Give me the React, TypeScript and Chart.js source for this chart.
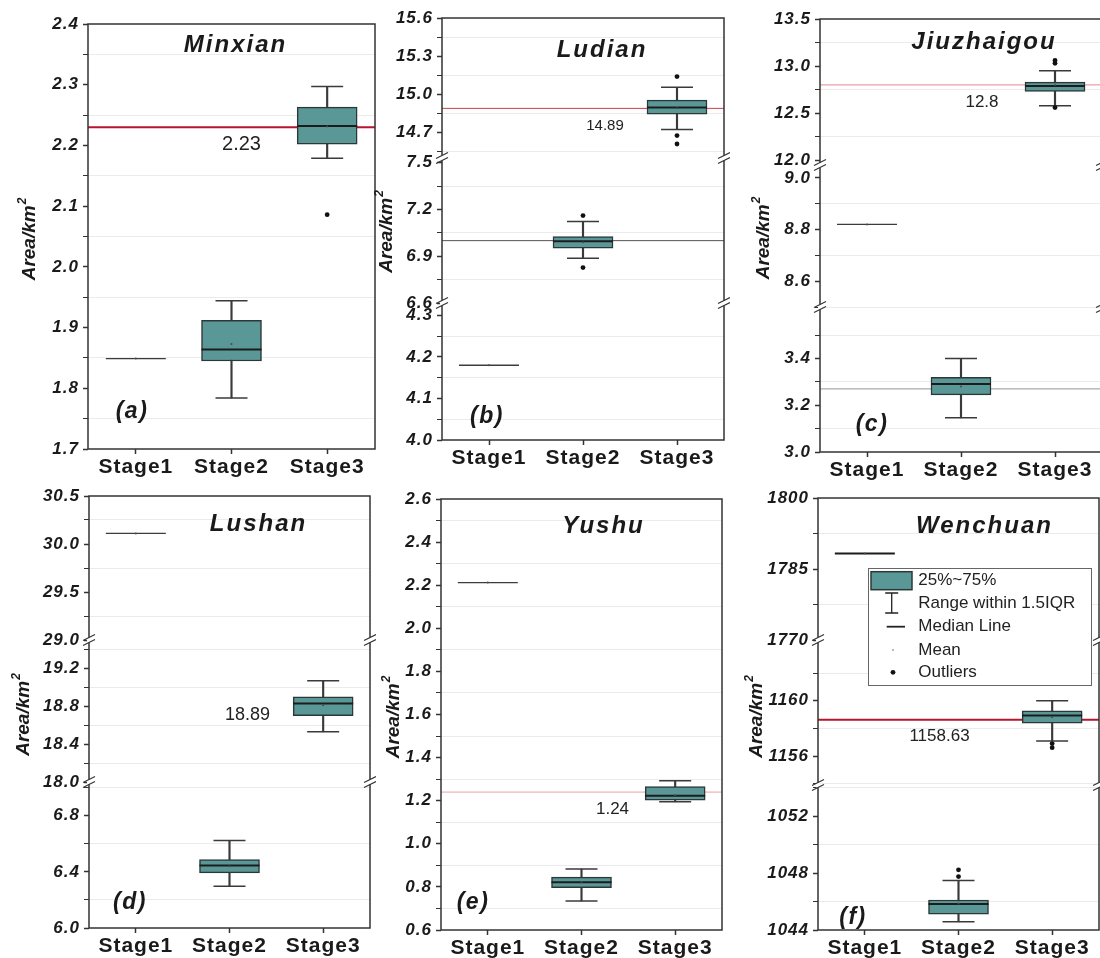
import React, { useEffect, useRef } from 'react';
import { Chart, registerables } from 'chart.js';

Chart.register(...registerables);

const FONT = '"Liberation Sans", Arial, sans-serif';
const STAGES = ['Stage1', 'Stage2', 'Stage3'];
const LEGEND_LABELS = ['25%~75%', 'Range within 1.5IQR', 'Median Line', 'Mean', 'Outliers'];

// Box statistics per stage: [lower whisker, Q1, median, Q3, upper whisker, mean]
// Outliers: [stage index, value]. Ranges: value span of each axis segment (top to bottom).

// (a) Minxian
const MINXIAN_BOXES = [
  [1.849, 1.849, 1.849, 1.849, 1.849, 1.849],
  [1.784, 1.845, 1.864, 1.912, 1.944, 1.873],
  [2.179, 2.202, 2.232, 2.263, 2.297, 2.231],
];
const MINXIAN_OUTLIERS = [[2, 2.086]];
const MINXIAN_RANGES = [[1.7, 2.4]];
const MINXIAN_TICKS = [[1.7, 1.8, 1.9, 2.0, 2.1, 2.2, 2.3, 2.4]];
const MINXIAN_REF = [2.23];
const MINXIAN_REF_LABELS = ['2.23'];

// (b) Ludian
const LUDIAN_BOXES = [
  [4.18, 4.18, 4.18, 4.18, 4.18, 4.18],
  [6.887, 6.951, 6.996, 7.026, 7.123, 6.99],
  [14.724, 14.844, 14.896, 14.955, 15.055, 14.89],
];
const LUDIAN_OUTLIERS = [[1, 7.161], [1, 6.827], [2, 15.14], [2, 14.676], [2, 14.61]];
const LUDIAN_RANGES = [[14.5, 15.6], [6.6, 7.53], [4.0, 4.33]];
const LUDIAN_TICKS = [[14.7, 15.0, 15.3, 15.6], [6.6, 6.9, 7.2, 7.5], [4.0, 4.1, 4.2, 4.3]];
const LUDIAN_REF = [14.89, 7.0];
const LUDIAN_REF_LABELS = ['14.89', ''];

// (c) Jiuzhaigou
const JIUZHAIGOU_BOXES = [
  [8.82, 8.82, 8.82, 8.82, 8.82, 8.82],
  [3.146, 3.244, 3.291, 3.319, 3.4, 3.28],
  [12.58, 12.73, 12.79, 12.83, 12.95, 12.8],
];
const JIUZHAIGOU_OUTLIERS = [[2, 13.06], [2, 13.03], [2, 12.56]];
const JIUZHAIGOU_RANGES = [[11.95, 13.5], [8.5, 9.05], [3.0, 3.62]];
const JIUZHAIGOU_TICKS = [[12.0, 12.5, 13.0, 13.5], [8.6, 8.8, 9.0], [3.0, 3.2, 3.4]];
const JIUZHAIGOU_REF = [12.8, 3.27];
const JIUZHAIGOU_REF_LABELS = ['12.8', ''];

// (d) Lushan
const LUSHAN_BOXES = [
  [30.11, 30.11, 30.11, 30.11, 30.11, 30.11],
  [6.297, 6.393, 6.445, 6.488, 6.623, 6.44],
  [18.53, 18.7, 18.83, 18.9, 19.07, 18.81],
];
const LUSHAN_OUTLIERS: number[][] = [];
const LUSHAN_RANGES = [[29.0, 30.5], [18.0, 19.5], [6.0, 7.04]];
const LUSHAN_TICKS = [[29.0, 29.5, 30.0, 30.5], [18.0, 18.4, 18.8, 19.2], [6.0, 6.4, 6.8]];
const LUSHAN_REF = [18.89];
const LUSHAN_REF_LABELS = ['18.89'];

// (e) Yushu
const YUSHU_BOXES = [
  [2.212, 2.212, 2.212, 2.212, 2.212, 2.212],
  [0.735, 0.796, 0.821, 0.845, 0.883, 0.82],
  [1.195, 1.203, 1.223, 1.265, 1.293, 1.225],
];
const YUSHU_OUTLIERS: number[][] = [];
const YUSHU_RANGES = [[0.6, 2.6]];
const YUSHU_TICKS = [[0.6, 0.8, 1.0, 1.2, 1.4, 1.6, 1.8, 2.0, 2.2, 2.4, 2.6]];
const YUSHU_REF = [1.24];
const YUSHU_REF_LABELS = ['1.24'];

// (f) Wenchuan
const WENCHUAN_BOXES = [
  [1788.3, 1788.3, 1788.3, 1788.3, 1788.3, 1788.3],
  [1044.58, 1045.12, 1045.83, 1046.11, 1047.48, 1045.86],
  [1157.09, 1158.38, 1158.93, 1159.27, 1160.0, 1158.8],
];
const WENCHUAN_OUTLIERS = [[1, 1047.76], [1, 1048.23], [2, 1156.9], [2, 1156.6]];
const WENCHUAN_RANGES = [[1770, 1800], [1153.9, 1164.4], [1044, 1054.2]];
const WENCHUAN_TICKS = [[1770, 1785, 1800], [1156, 1160], [1044, 1048, 1052]];
const WENCHUAN_REF = [1158.63];
const WENCHUAN_REF_LABELS = ['1158.63'];

const TEAL = '#5a9898';
const BOX_EDGE = '#2c3838';
const WHISKER = '#3a3a3a';
const GRID = '#ebebeb';
const INK = '#1a1a1a';

type PanelDef = {
  title: string; letter: string;
  boxes: number[][]; outliers: number[][]; ranges: number[][]; ticks: number[][];
  refs: number[]; refLabels: string[]; decimals: number;
  rect: number[]; weights: number[];
  titleDx: number; titleBase: number; letterDx: number; letterDy: number; yTitleDx: number;
  labelDx: number; labelSize: number; refStyles: [string, number][]; legend: boolean; singleWidth: number;
};

const PANELS: PanelDef[] = [
  {
    title: 'Minxian', letter: '(a)', boxes: MINXIAN_BOXES, outliers: MINXIAN_OUTLIERS, ranges: MINXIAN_RANGES,
    ticks: MINXIAN_TICKS, refs: MINXIAN_REF, refLabels: MINXIAN_REF_LABELS, decimals: 1,
    rect: [88, 24, 375, 449], weights: [1],
    titleDx: 4, titleBase: 27.7, letterDx: 44, letterDy: 37, yTitleDx: 60, labelDx: 10, labelSize: 20,
    refStyles: [['#b5152f', 2]], legend: false, singleWidth: 1.3,
  },
  {
    title: 'Ludian', letter: '(b)', boxes: LUDIAN_BOXES, outliers: LUDIAN_OUTLIERS, ranges: LUDIAN_RANGES,
    ticks: LUDIAN_TICKS, refs: LUDIAN_REF, refLabels: LUDIAN_REF_LABELS, decimals: 1,
    rect: [442, 18, 724, 440], weights: [140, 145, 137],
    titleDx: 19, titleBase: 38.7, letterDx: 45, letterDy: 23, yTitleDx: 57, labelDx: 22, labelSize: 15,
    refStyles: [['#d03a4a', 1], ['#555555', 1]], legend: false, singleWidth: 1.3,
  },
  {
    title: 'Jiuzhaigou', letter: '(c)', boxes: JIUZHAIGOU_BOXES, outliers: JIUZHAIGOU_OUTLIERS, ranges: JIUZHAIGOU_RANGES,
    ticks: JIUZHAIGOU_TICKS, refs: JIUZHAIGOU_REF, refLabels: JIUZHAIGOU_REF_LABELS, decimals: 1,
    rect: [820, 19, 1102, 452], weights: [146, 142, 145],
    titleDx: 23, titleBase: 30.3, letterDx: 52, letterDy: 27, yTitleDx: 58, labelDx: 21, labelSize: 17,
    refStyles: [['#eaa0a8', 1.2], ['#aaaaaa', 1.2]], legend: false, singleWidth: 1.3,
  },
  {
    title: 'Lushan', letter: '(d)', boxes: LUSHAN_BOXES, outliers: LUSHAN_OUTLIERS, ranges: LUSHAN_RANGES,
    ticks: LUSHAN_TICKS, refs: LUSHAN_REF, refLabels: LUSHAN_REF_LABELS, decimals: 1,
    rect: [89, 496, 370, 928], weights: [144, 142, 146],
    titleDx: 29, titleBase: 34.7, letterDx: 41, letterDy: 25, yTitleDx: 67, labelDx: 18, labelSize: 18,
    refStyles: [['rgba(0,0,0,0)', 1]], legend: false, singleWidth: 1.3,
  },
  {
    title: 'Yushu', letter: '(e)', boxes: YUSHU_BOXES, outliers: YUSHU_OUTLIERS, ranges: YUSHU_RANGES,
    ticks: YUSHU_TICKS, refs: YUSHU_REF, refLabels: YUSHU_REF_LABELS, decimals: 1,
    rect: [441, 499, 722, 930], weights: [1],
    titleDx: 22, titleBase: 34.3, letterDx: 32, letterDy: 27, yTitleDx: 49, labelDx: 31, labelSize: 17,
    refStyles: [['#eaa0a8', 1]], legend: false, singleWidth: 1.3,
  },
  {
    title: 'Wenchuan', letter: '(f)', boxes: WENCHUAN_BOXES, outliers: WENCHUAN_OUTLIERS, ranges: WENCHUAN_RANGES,
    ticks: WENCHUAN_TICKS, refs: WENCHUAN_REF, refLabels: WENCHUAN_REF_LABELS, decimals: 0,
    rect: [818, 498, 1099, 930], weights: [142, 145, 145],
    titleDx: 26, titleBase: 35.3, letterDx: 35, letterDy: 12, yTitleDx: 63, labelDx: -19, labelSize: 17,
    refStyles: [['#b5152f', 2]], legend: true, singleWidth: 2,
  },
];

function buildTicks(majors: number[], lo: number, hi: number) {
  const step = majors.length > 1 ? majors[1] - majors[0] : 1;
  const r = (v: number) => Math.round(v * 1e6) / 1e6;
  const out: any[] = majors.map(v => ({ value: v, minorT: false }));
  const seen = new Set(majors.map(r));
  majors.forEach(m => {
    [m - step / 2, m + step / 2].forEach(v => {
      const rv = r(v);
      if (rv >= lo - 1e-9 && rv <= hi + 1e-9 && !seen.has(rv)) {
        seen.add(rv);
        out.push({ value: rv, minorT: true });
      }
    });
  });
  out.sort((a, b) => a.value - b.value);
  return out;
}

function buildDatasets(p: PanelDef) {
  const sets: any[] = [];
  p.ranges.forEach((rg, i) => {
    const yAxisID = 'y' + i;
    const inSeg = (v: number) => v >= rg[0] && v <= rg[1];
    const pick = (f: (b: number[]) => any) => p.boxes.map(b => (inSeg(b[2]) ? f(b) : null));
    const inBoxes = p.boxes.filter(b => inSeg(b[2]));
    const pts = (f: (b: number[]) => number[]) =>
      p.boxes.flatMap((b, k) => (inSeg(b[2]) ? f(b).map(y => ({ x: STAGES[k], y })) : []));
    const medWidths = inBoxes.map(b => (b[1] === b[3] ? p.singleWidth : 2));
    const medColors = inBoxes.map(b => (b[1] === b[3] && p.singleWidth < 2 ? '#3c3c3c' : '#1c1c1c'));
    sets.push({ type: 'bar', yAxisID, data: pick(b => [b[0], b[4]]), backgroundColor: WHISKER, barThickness: 1.5, grouped: false, order: 6 });
    sets.push({ type: 'bar', yAxisID, data: pick(b => [b[1], b[3]]), backgroundColor: TEAL, borderColor: BOX_EDGE, borderWidth: 1.5, borderSkipped: false, barThickness: 60, grouped: false, order: 5 });
    sets.push({ type: 'line', yAxisID, showLine: false, data: pts(b => (b[0] === b[4] ? [] : [b[0], b[4]])), pointStyle: 'line', pointRadius: 16, pointBorderWidth: 1.5, pointBorderColor: WHISKER, order: 4 });
    sets.push({ type: 'line', yAxisID, showLine: false, data: pts(b => [b[2]]), pointStyle: 'line', pointRadius: 30, pointBorderWidth: medWidths, pointBorderColor: medColors, order: 3 });
    sets.push({ type: 'line', yAxisID, showLine: false, data: pts(b => [b[5]]), pointStyle: 'circle', pointRadius: 1, pointBackgroundColor: '#4a4a4a', pointBorderWidth: 0, order: 2 });
    sets.push({
      type: 'line', yAxisID, showLine: false,
      data: p.outliers.filter(o => inSeg(o[1])).map(o => ({ x: STAGES[o[0]], y: o[1] })),
      pointStyle: 'circle', pointRadius: 2.4, pointBackgroundColor: '#111', pointBorderWidth: 0, order: 1,
    });
  });
  return sets;
}

function drawBreak(ctx: CanvasRenderingContext2D, x: number, y: number) {
  ctx.save();
  ctx.fillStyle = '#fff';
  ctx.fillRect(x - 2, y - 2.5, 4, 5);
  ctx.strokeStyle = '#333';
  ctx.lineWidth = 1.2;
  [-2.5, 2.5].forEach(d => {
    ctx.beginPath();
    ctx.moveTo(x - 6, y + d + 3);
    ctx.lineTo(x + 6, y + d - 3);
    ctx.stroke();
  });
  ctx.restore();
}

function buildConfig(p: PanelDef): any {
  const n = p.ranges.length;
  const segOf = (v: number) => {
    const i = p.ranges.findIndex(r => v >= r[0] && v <= r[1]);
    return i < 0 ? 0 : i;
  };
  const scales: any = {
    x: {
      type: 'category', labels: STAGES, offset: true,
      grid: { offset: false, drawOnChartArea: false, drawTicks: true, tickLength: 5, tickColor: '#333', tickWidth: 1.5 },
      border: { display: false },
      ticks: { color: INK, font: { family: FONT, size: 21, weight: 'bold' }, padding: 1, autoSkip: false, maxRotation: 0 },
      afterFit: (s: any) => { s.height = 40; },
    },
  };
  p.ranges.forEach((rg, i) => {
    const sc: any = {
      type: 'linear', position: 'left', weight: n - i,
      min: rg[0], max: rg[1],
      afterBuildTicks: (s: any) => { s.ticks = buildTicks(p.ticks[i], rg[0], rg[1]); },
      afterFit: (s: any) => { s.width = 88; },
      grid: {
        color: (c: any) => (c.tick && c.tick.minorT ? GRID : 'rgba(0,0,0,0)'),
        tickColor: '#333', tickLength: 5,
        tickWidth: (c: any) => (c.tick && c.tick.minorT ? 1 : 1.5),
        lineWidth: 1,
      },
      border: { display: false },
      ticks: {
        autoSkip: false, color: INK, padding: 4,
        font: { family: FONT, size: 17, weight: 'bold', style: 'italic' },
        callback: (v: any, idx: number, arr: any[]) => (arr[idx] && arr[idx].minorT ? '' : Number(v).toFixed(p.decimals)),
      },
    };
    if (n > 1) { sc.stack = 'yaxes'; sc.stackWeight = p.weights[i]; }
    scales['y' + i] = sc;
  });

  const decor = {
    id: 'panelDecor',
    beforeDraw(chart: any) { chart.ctx.letterSpacing = '1px'; },
    beforeDatasetsDraw(chart: any) {
      const { ctx, chartArea: a } = chart;
      ctx.save();
      p.refs.forEach((v, k) => {
        const y = chart.scales['y' + segOf(v)].getPixelForValue(v);
        const [col, w] = p.refStyles[k];
        ctx.strokeStyle = col; ctx.lineWidth = w;
        ctx.beginPath(); ctx.moveTo(a.left, y); ctx.lineTo(a.right, y); ctx.stroke();
      });
      ctx.restore();
    },
    afterDraw(chart: any) {
      const { ctx, chartArea: a } = chart;
      ctx.save();
      ctx.letterSpacing = '0px';
      p.refs.forEach((v, k) => {
        const lbl = p.refLabels[k];
        if (!lbl) return;
        const y = chart.scales['y' + segOf(v)].getPixelForValue(v);
        const x = chart.scales.x.getPixelForValue(1) + p.labelDx;
        ctx.font = `${p.labelSize}px ${FONT}`;
        ctx.fillStyle = '#222'; ctx.textAlign = 'center'; ctx.textBaseline = 'middle';
        ctx.fillText(lbl, x, y + 17);
      });
      ctx.strokeStyle = '#333'; ctx.lineWidth = 1.5;
      ctx.strokeRect(a.left, a.top, a.right - a.left, a.bottom - a.top);
      for (let i = 0; i < n - 1; i++) {
        const y = chart.scales['y' + i].bottom;
        drawBreak(ctx, a.left, y);
        drawBreak(ctx, a.right, y);
      }
      ctx.fillStyle = INK;
      ctx.font = `italic bold 24px ${FONT}`;
      ctx.letterSpacing = '2px';
      ctx.textAlign = 'center'; ctx.textBaseline = 'alphabetic';
      ctx.fillText(p.title, (a.left + a.right) / 2 + p.titleDx, a.top + p.titleBase);
      ctx.font = `italic bold 23px ${FONT}`;
      ctx.letterSpacing = '1.5px';
      ctx.textBaseline = 'middle';
      ctx.fillText(p.letter, a.left + p.letterDx, a.bottom - p.letterDy);
      ctx.save();
      ctx.letterSpacing = '0px';
      ctx.translate(a.left - p.yTitleDx, (a.top + a.bottom) / 2 + 3);
      ctx.rotate(-Math.PI / 2);
      ctx.font = `italic bold 19px ${FONT}`;
      const main = 'Area/km';
      const w1 = ctx.measureText(main).width;
      ctx.font = `italic bold 12px ${FONT}`;
      const w2 = ctx.measureText('2').width;
      const x0 = -(w1 + w2) / 2;
      ctx.textAlign = 'left'; ctx.textBaseline = 'alphabetic';
      ctx.font = `italic bold 19px ${FONT}`;
      ctx.fillText(main, x0, 7);
      ctx.font = `italic bold 12px ${FONT}`;
      ctx.fillText('2', x0 + w1 + 1, -2);
      ctx.restore();
      if (p.legend) {
        const L = a.left + 50, T = a.top + 70;
        ctx.letterSpacing = '0px';
        ctx.fillStyle = '#fff';
        ctx.fillRect(L, T, 223, 117);
        ctx.strokeStyle = '#666'; ctx.lineWidth = 1;
        ctx.strokeRect(L + 0.5, T + 0.5, 223, 117);
        ctx.fillStyle = TEAL; ctx.fillRect(L + 3, T + 3.7, 41, 18);
        ctx.strokeStyle = BOX_EDGE; ctx.lineWidth = 1.5; ctx.strokeRect(L + 3, T + 3.7, 41, 18);
        const cx = L + 23.7;
        ctx.strokeStyle = '#222'; ctx.lineWidth = 1.3;
        ctx.beginPath();
        ctx.moveTo(cx, T + 25); ctx.lineTo(cx, T + 45);
        ctx.moveTo(cx - 6.5, T + 25); ctx.lineTo(cx + 6.5, T + 25);
        ctx.moveTo(cx - 6.5, T + 45); ctx.lineTo(cx + 6.5, T + 45);
        ctx.stroke();
        ctx.lineWidth = 1.8;
        ctx.beginPath(); ctx.moveTo(L + 18.7, T + 58.7); ctx.lineTo(L + 37, T + 58.7); ctx.stroke();
        ctx.fillStyle = '#bbb'; ctx.fillRect(L + 24, T + 81, 2, 2);
        ctx.fillStyle = '#111'; ctx.beginPath(); ctx.arc(L + 25, T + 104.3, 2.4, 0, Math.PI * 2); ctx.fill();
        ctx.font = `17px ${FONT}`; ctx.fillStyle = '#222';
        ctx.textAlign = 'left'; ctx.textBaseline = 'middle';
        const rows = [12.5, 35.3, 58.7, 82, 104.3];
        LEGEND_LABELS.forEach((s, k) => ctx.fillText(s, L + 50.3, T + rows[k]));
      }
      ctx.restore();
    },
  };

  return {
    type: 'bar',
    data: { labels: STAGES, datasets: buildDatasets(p) },
    options: {
      responsive: false, animation: false, events: [],
      layout: { padding: { left: 0, top: 20, right: 6, bottom: 0 }, autoPadding: false },
      plugins: { legend: { display: false }, tooltip: { enabled: false }, title: { display: false } },
      scales,
    },
    plugins: [decor],
  };
}

function Panel({ p }: { p: PanelDef }) {
  const ref = useRef<HTMLCanvasElement>(null);
  useEffect(() => {
    const chart = new Chart(ref.current as HTMLCanvasElement, buildConfig(p));
    return () => chart.destroy();
  }, [p]);
  const [l, t, r, b] = p.rect;
  const W = r - l + 88 + 6;
  const H = b - t + 20 + 40;
  return (
    <canvas
      ref={ref}
      width={W}
      height={H}
      style={{ position: 'absolute', left: l - 88, top: t - 20, width: W, height: H }}
    />
  );
}

export default function App() {
  return (
    <div style={{ position: 'fixed', left: 0, top: 0, width: 1100, height: 958, overflow: 'hidden', background: '#fff' }}>
      {PANELS.map(p => (
        <Panel key={p.title} p={p} />
      ))}
    </div>
  );
}
